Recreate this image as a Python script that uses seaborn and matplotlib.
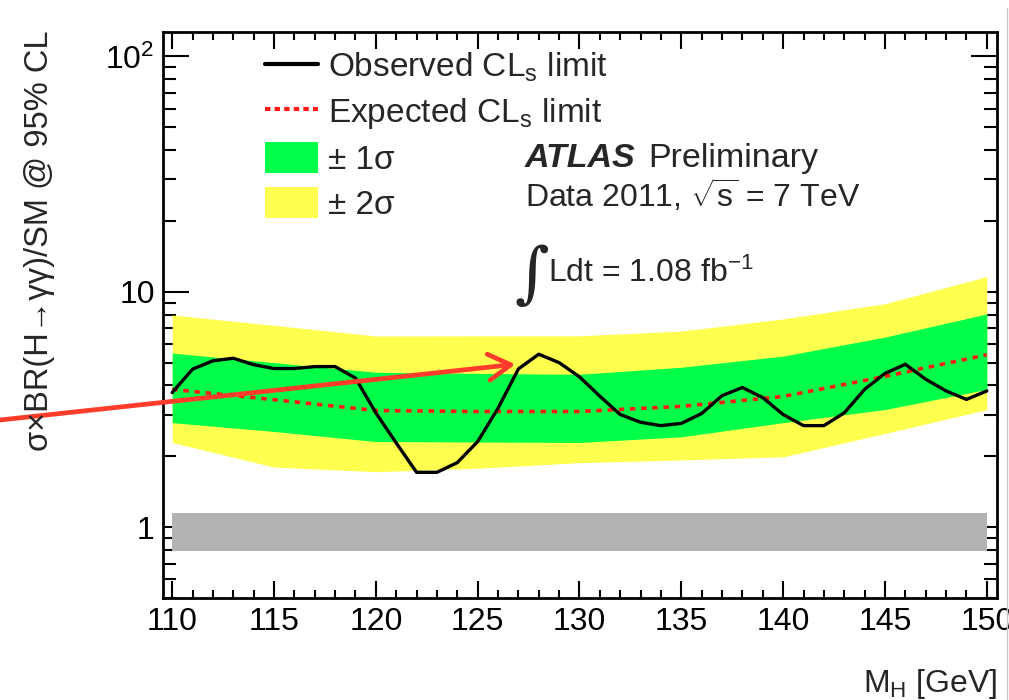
import matplotlib
matplotlib.use("Agg")
import matplotlib.pyplot as plt
from matplotlib.lines import Line2D
from matplotlib.patches import Patch
from matplotlib.ticker import MultipleLocator, LogLocator, NullFormatter
import pandas as pd
import seaborn as sns

# Observed 95% CL limit on sigma x BR / SM, scanned in 1 GeV steps
mass_obs = list(range(110, 151))
observed = [3.73, 4.69, 5.09, 5.22, 4.90, 4.72, 4.72, 4.81, 4.81, 4.30,
            3.06, 2.28, 1.71, 1.71, 1.88, 2.31, 3.20, 4.70, 5.43, 5.00,
            4.35, 3.60, 3.01, 2.79, 2.70, 2.76, 3.04, 3.62, 3.92, 3.55,
            3.01, 2.70, 2.70, 3.06, 3.85, 4.50, 4.92, 4.25, 3.79, 3.49, 3.79]

# Expected limit and its +-1 sigma / +-2 sigma bands
mass_exp = [110, 115, 120, 125, 130, 135, 140, 145, 150]
expected = [3.85, 3.48, 3.13, 3.10, 3.10, 3.26, 3.59, 4.37, 5.40]
one_sig_up = [5.49, 5.00, 4.55, 4.50, 4.46, 4.78, 5.33, 6.42, 8.05]
one_sig_dn = [2.78, 2.55, 2.31, 2.30, 2.29, 2.42, 2.78, 3.16, 3.85]
two_sig_up = [7.97, 7.20, 6.49, 6.50, 6.50, 6.81, 7.67, 8.90, 11.6]
two_sig_dn = [2.29, 1.80, 1.72, 1.78, 1.88, 1.93, 1.99, 2.50, 3.16]

# Theory uncertainty band around the SM expectation (sigma/SM = 1)
sm_mass = [110, 150]
sm_lo = [0.79, 0.79]
sm_hi = [1.15, 1.15]

# Arrow pointing at the observed excess
arrow_head = (126.85, 4.92)

xtick_vals = [110, 115, 120, 125, 130, 135, 140, 145, 150]
xtick_labels = ["110", "115", "120", "125", "130", "135", "140", "145", "150"]
ytick_vals = [1, 10, 100]
ytick_labels = ["1", "10", "10$^{2}$"]

legend_labels = [r"Observed CL$_{\mathrm{s}}$ limit",
                 r"Expected CL$_{\mathrm{s}}$ limit",
                 "± 1σ", "± 2σ"]

YELLOW = "#ffff50"
GREEN = "#00ff48"
RED = "#ff1a1a"
GREY = "#b3b3b3"
ARROW = "#ff3b2b"

sns.set_theme(style="ticks")
plt.rcParams["font.family"] = ["Liberation Sans", "DejaVu Sans"]
plt.rcParams["mathtext.fontset"] = "custom"
plt.rcParams["mathtext.rm"] = "Liberation Sans"
plt.rcParams["mathtext.it"] = "Liberation Sans:italic"
plt.rcParams["mathtext.bf"] = "Liberation Sans:bold"
plt.rcParams["mathtext.sf"] = "Liberation Sans"

W, H = 1009, 700
fig = plt.figure(figsize=(W / 100, H / 100), dpi=100)
fig.patch.set_facecolor("white")
ax = fig.add_axes([163 / W, 102 / H, 834 / W, 566 / H])
ax.set_facecolor("white")

ax.fill_between(mass_exp, two_sig_dn, two_sig_up, color=YELLOW, lw=0, zorder=1)
ax.fill_between(mass_exp, one_sig_dn, one_sig_up, color=GREEN, lw=0, zorder=1.1)
ax.fill_between(sm_mass, sm_lo, sm_hi, color=GREY, lw=0, zorder=1)

df_exp = pd.DataFrame({"mass": mass_exp, "limit": expected})
df_obs = pd.DataFrame({"mass": mass_obs, "limit": observed})
sns.lineplot(data=df_exp, x="mass", y="limit", ax=ax, color=RED, lw=2.6,
             linestyle=(0, (1.5, 1.6)), zorder=2.5, legend=False)
sns.lineplot(data=df_obs, x="mass", y="limit", ax=ax, color="black", lw=2.4,
             zorder=3, legend=False)

ax.set_yscale("log")
ax.set_xlim(109.55, 150.5)
ax.set_ylim(0.5, 127)
ax.set_xlabel("")
ax.set_ylabel("")

ax.set_xticks(xtick_vals, labels=xtick_labels)
ax.xaxis.set_minor_locator(MultipleLocator(1))
ax.set_yticks(ytick_vals, labels=ytick_labels)
ax.yaxis.set_minor_locator(LogLocator(base=10, subs=range(2, 10)))
ax.yaxis.set_minor_formatter(NullFormatter())
ax.set_axisbelow(True)

ax.tick_params(which="both", direction="in", top=True, right=True,
               width=1.5, color="black", labelcolor="black")
ax.tick_params(axis="x", which="major", length=12.5, pad=6.5, labelsize=23)
ax.tick_params(axis="x", which="minor", length=5.5)
ax.tick_params(axis="y", which="major", length=18.5, pad=6, labelsize=23)
ax.tick_params(axis="y", which="minor", length=9.5)
for sp in ax.spines.values():
    sp.set_visible(True)
    sp.set_linewidth(2.0)
    sp.set_color("black")
    sp.set_zorder(4)

handles = [
    Line2D([], [], color="black", lw=3.0),
    Line2D([], [], color=RED, lw=3.0, linestyle=(0, (1.3, 1.0))),
    Patch(facecolor=GREEN, edgecolor="none"),
    Patch(facecolor=YELLOW, edgecolor="none"),
]
ax.legend(handles, legend_labels, loc="upper left", bbox_to_anchor=(0.1223, 0.968),
          frameon=False, fontsize=24, handlelength=1.6, handleheight=1.05,
          handletextpad=0.3, labelspacing=0.33, borderpad=0, borderaxespad=0)

ax.text(0.434, 0.7615, "ATLAS", transform=ax.transAxes, fontsize=24.5,
        fontweight="bold", fontstyle="italic", va="baseline", ha="left")
ax.text(0.5815, 0.7615, "Preliminary", transform=ax.transAxes, fontsize=24.5,
        va="baseline", ha="left")
ax.text(0.434, 0.6908, r"Data 2011, $\sqrt{\mathrm{s}}$ = 7 TeV", transform=ax.transAxes,
        fontsize=23, va="baseline", ha="left")
ax.text(0.4424, 0.569, "∫", transform=ax.transAxes, fontsize=48,
        family=["DejaVu Serif"], va="center", ha="center")
ax.text(0.4616, 0.558, r"Ldt = 1.08 fb$^{-1}$", transform=ax.transAxes,
        fontsize=23, va="baseline", ha="left")

ax.annotate("", xy=arrow_head, xycoords="data", xytext=(0.0, 0.40),
            textcoords="figure fraction", annotation_clip=False, zorder=6,
            arrowprops=dict(arrowstyle="->,head_length=0.8,head_width=0.47",
                            color=ARROW, lw=3.4, shrinkA=0, shrinkB=0,
                            mutation_scale=20))

fig.text(40 / W, 1 - 30 / H, "σ×BR(H→γγ)/SM @ 95% CL", rotation=90,
         ha="center", va="top", fontsize=23.5)
fig.text(997 / W, 8 / H, r"M$_{\mathrm{H}}$ [GeV]", ha="right", va="baseline",
         fontsize=23)

fig.add_artist(Line2D([1007 / W, 1007 / W], [0, 1 - 8 / H], transform=fig.transFigure,
                      color="#c8c8c8", lw=1.0))

fig.savefig("out.png", dpi=100, facecolor="white")
